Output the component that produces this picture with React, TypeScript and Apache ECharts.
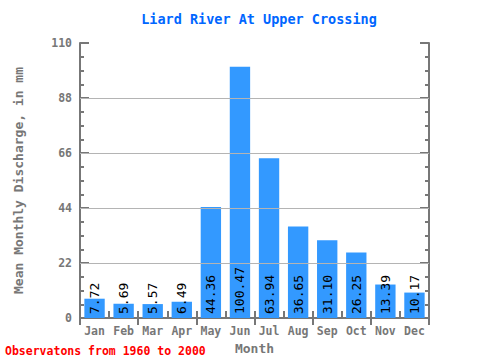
import React, { useEffect, useRef } from "react";
import * as echarts from "echarts";

const months = ["Jan", "Feb", "Mar", "Apr", "May", "Jun", "Jul", "Aug", "Sep", "Oct", "Nov", "Dec"];
const discharge = [7.72, 5.69, 5.57, 6.49, 44.36, 100.47, 63.94, 36.65, 31.1, 26.25, 13.39, 10.17];
const gridValues = [22, 44, 66, 88];

const MONO = "'DejaVu Sans Mono', 'Liberation Mono', monospace";
const AXIS_GRAY = "#777777";

export default function App() {
  const ref = useRef<HTMLDivElement>(null);
  useEffect(() => {
    document.body.style.margin = "0";
    if (!ref.current) return;
    const chart = echarts.init(ref.current, undefined, { renderer: "svg" });
    const yCommon = {
      type: "value",
      min: 0,
      max: 110,
      interval: 22,
      axisLine: { show: true, lineStyle: { color: AXIS_GRAY, width: 2 } },
      axisTick: { show: true, inside: true, length: 9, lineStyle: { color: AXIS_GRAY, width: 2 } },
      minorTick: { show: true, splitNumber: 4, length: 4, lineStyle: { color: AXIS_GRAY, width: 2 } },
      splitLine: { show: false },
    };
    const xCommon = {
      type: "category",
      data: months,
      axisLine: { show: true, lineStyle: { color: AXIS_GRAY, width: 2 } },
      axisTick: { show: true, inside: true, length: 7, alignWithLabel: false, lineStyle: { color: AXIS_GRAY, width: 2 } },
    };
    chart.setOption({
      animation: false,
      title: {
        text: "Liard River At Upper Crossing",
        left: 254,
        textAlign: "center",
        top: 7,
        textStyle: { color: "#0066ff", fontFamily: MONO, fontWeight: "bold", fontSize: 13.5 },
      },
      grid: { left: 80, right: 51, top: 43, bottom: 38 },
      xAxis: [
        {
          ...xCommon,
          position: "bottom",
          name: "Month",
          nameLocation: "middle",
          nameGap: 24,
          nameTextStyle: { color: AXIS_GRAY, fontFamily: MONO, fontWeight: "bold", fontSize: 13 },
          axisLabel: { color: AXIS_GRAY, fontFamily: MONO, fontWeight: "bold", fontSize: 11.5, margin: 7 },
        },
        { ...xCommon, position: "top", axisLabel: { show: false } },
      ],
      yAxis: [
        {
          ...yCommon,
          position: "left",
          name: "Mean Monthly Discharge, in mm",
          nameLocation: "middle",
          nameGap: 55,
          nameTextStyle: { color: AXIS_GRAY, fontFamily: MONO, fontWeight: "bold", fontSize: 13 },
          axisLabel: { color: AXIS_GRAY, fontFamily: MONO, fontWeight: "bold", fontSize: 11.5, margin: 8 },
        },
        { ...yCommon, position: "right", axisLabel: { show: false } },
      ],
      graphic: [
        {
          type: "text",
          left: 5,
          top: 345,
          style: {
            text: "Observatons from 1960 to 2000",
            fill: "#ff0000",
            font: `bold 11.5px ${MONO}`,
          },
        },
      ],
      series: [
        {
          type: "bar",
          data: discharge,
          barCategoryGap: "30%",
          itemStyle: { color: "#3399ff" },
          label: {
            show: true,
            position: "insideBottom",
            rotate: 90,
            align: "left",
            verticalAlign: "middle",
            distance: 4,
            color: "#000000",
            fontFamily: MONO,
            fontSize: 13,
            formatter: (p: any) => Number(p.value).toFixed(2),
          },
          markLine: {
            silent: true,
            symbol: "none",
            label: { show: false },
            lineStyle: { color: "#b4b4b4", width: 1, type: "solid" },
            data: gridValues.map((v) => ({ yAxis: v })),
          },
        },
      ],
    });
    return () => chart.dispose();
  }, []);
  return <div ref={ref} style={{ width: 480, height: 360 }} />;
}
